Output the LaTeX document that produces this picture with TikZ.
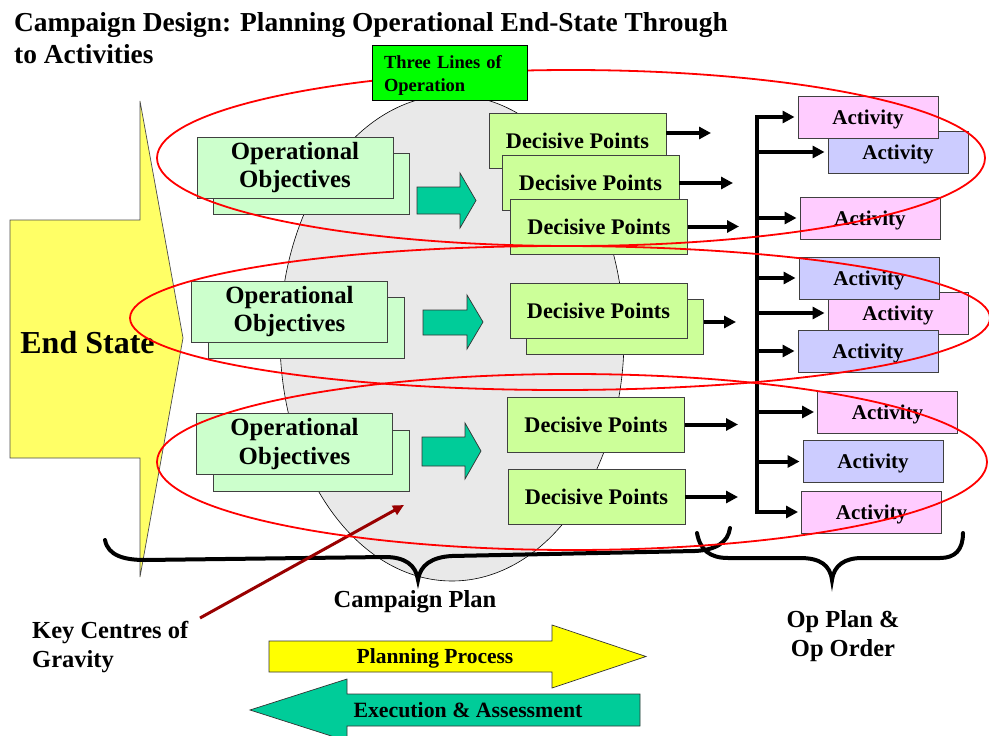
\documentclass[tikz,border=0pt]{standalone}
\usepackage{fontspec}
\setmainfont{Liberation Serif}
\usetikzlibrary{arrows.meta}
\definecolor{esyellow}{HTML}{FFFF66}
\definecolor{oogreen}{HTML}{CCFFCC}
\definecolor{dpgreen}{HTML}{CCFF99}
\definecolor{teal2}{HTML}{00CC99}
\definecolor{actpink}{HTML}{FFCCFF}
\definecolor{actblue}{HTML}{CCCCFF}
\definecolor{linegreen}{HTML}{00FF00}
\definecolor{ppyellow}{HTML}{FFFF00}
\definecolor{cgred}{HTML}{990000}
\definecolor{ellgray}{HTML}{E9E9E9}
\begin{document}
\begin{tikzpicture}[x=1pt,y=-1pt,
  box/.style={draw=black!75, line width=0.9pt, inner sep=0pt, align=center},
  oo/.style={box, fill=oogreen, minimum width=196pt, minimum height=61pt, font=\bfseries\fontsize{24.8}{28.5}\selectfont},
  dpbox/.style={box, fill=dpgreen, minimum width=177pt, minimum height=55pt, font=\bfseries\fontsize{22.3}{26}\selectfont},
  actp/.style={box, fill=actpink, minimum width=140pt, minimum height=42pt, text height=15pt, text depth=1pt, font=\bfseries\fontsize{21}{24}\selectfont},
  actb/.style={actp, fill=actblue},
  blockarrow/.style={draw=black!80, line width=0.7pt},
  arr/.style={line width=4pt, -{Triangle[length=12pt,width=12pt]}},
  bracestyle/.style={line width=4pt, line cap=round},
  ring/.style={draw=red, line width=1.8pt},
  lbl/.style={font=\bfseries\fontsize{24.5}{29.5}\selectfont, inner sep=0pt}
]
\useasboundingbox (0,0) rectangle (989,736);

% title
\node[anchor=base west, inner sep=0pt, font=\bfseries\fontsize{27.4}{32}\selectfont] (title1) at (14,31) {Campaign Design: Planning Operational End-State Through};
\node[anchor=base west, inner sep=0pt, font=\bfseries\fontsize{27.4}{32}\selectfont] (title2) at (14,63) {to Activities};

% end state shape
\draw[draw=black!70, line width=0.7pt, fill=esyellow] (10,220) -- (140,220) -- (140,101) -- (183,338) -- (140,577) -- (140,458) -- (10,458) -- cycle;
\node[anchor=base, inner sep=0pt, font=\bfseries\fontsize{32}{36}\selectfont] (endstate) at (87.5,353) {End State};

% campaign ellipse
\draw[fill=ellgray, draw=black, line width=0.6pt] (452,338) ellipse [x radius=172pt, y radius=243pt];

% operational objectives
\node[oo] (oo1b) at (311.5,184) {};
\node[oo] (oo1) at (295,167.5) {Operational\\Objectives};
\node[oo] (oo2b) at (306,327.5) {};
\node[oo] (oo2) at (289.5,311.5) {Operational\\Objectives};
\node[oo] (oo3b) at (311,461) {};
\node[oo] (oo3) at (294.5,444) {Operational\\Objectives};

% teal block arrows
\draw[blockarrow, fill=teal2] (417,187) -- (460,187) -- (460,173) -- (476,200.5) -- (460,228) -- (460,214) -- (417,214) -- cycle;
\draw[blockarrow, fill=teal2] (423,310) -- (467,310) -- (467,295) -- (483,322) -- (467,349) -- (467,335) -- (423,335) -- cycle;
\draw[blockarrow, fill=teal2] (422,437) -- (465,437) -- (465,423) -- (481,451) -- (465,479) -- (465,466) -- (422,466) -- cycle;

% decisive points
\node[dpbox] (dp1) at (577.5,140.5) {Decisive Points};
\node[dpbox] (dp2) at (590.5,183) {Decisive Points};
\node[dpbox] (dp3) at (599,226.5) {Decisive Points};
\node[dpbox] (dpmb) at (615,327) {};
\node[dpbox] (dpm) at (598.5,311) {Decisive Points};
\node[dpbox] (dp4) at (596,424.5) {Decisive Points};
\node[dpbox] (dp5) at (596.5,497) {Decisive Points};

\coordinate (dp1e) at (711,133);
\coordinate (dp2e) at (733,183);
\coordinate (dp3e) at (739,226.5);
\coordinate (dpme) at (736,322);
\coordinate (dp4e) at (738,424.5);
\coordinate (dp5e) at (738,497);
\draw[arr] ([yshift=7.5pt]dp1.east) -- (dp1e);
\draw[arr] (dp2.east) -- (dp2e);
\draw[arr] (dp3.east) -- (dp3e);
\draw[arr] ([yshift=5pt]dpmb.east) -- (dpme);
\draw[arr] (dp4.east) -- (dp4e);
\draw[arr] (dp5.east) -- (dp5e);

% activities
\node[actb] (a2) at (898,152) {Activity};
\node[actp] (a1) at (868,117) {Activity};
\node[actp] (a3) at (870,218) {Activity};
\node[actp] (a5) at (898,313) {Activity};
\node[actb] (a4) at (869,278) {Activity};
\node[actb] (a6) at (868,351) {Activity};
\node[actp] (a7) at (887.5,412) {Activity};
\node[actb] (a8) at (873,461.5) {Activity};
\node[actp] (a9) at (871.5,512) {Activity};

% bar
\coordinate (bar) at (757,300);
\draw[line width=4pt, line cap=rect] (bar |- a1.west) -- (bar |- a9.west);
\foreach \a in {a1,a2,a3,a4,a5,a6,a7,a8,a9}{
  \draw[arr, shorten >=3pt] (bar |- \a.west) -- (\a.west);
}

% braces
\draw[bracestyle] (105,540) .. controls (108,556) and (125,560) .. (145,560) -- (385,557) .. controls (405,557) and (416,565) .. (418,580) .. controls (420,565) and (432,557) .. (452,556) -- (695,551) .. controls (715,550) and (728,543) .. (730,528);
\draw[bracestyle] (697,533) .. controls (700,550) and (710,558) .. (728,558) -- (800,558) .. controls (820,558) and (830,565) .. (832,580) .. controls (834,565) and (845,558) .. (862,558) -- (940,558) .. controls (955,558) and (963,550) .. (963,533);

\node[lbl, anchor=base] (cplan) at (415,607) {Campaign Plan};
\node[lbl, align=center] (opplan) at (843,636) {Op Plan \&\\Op Order};
\node[lbl, align=left, anchor=west] (kcg) at (32,647) {Key Centres of\\Gravity};

% key centres arrow
\coordinate (kcs) at (200,618);
\coordinate (kce) at (404,505);
\draw[cgred, line width=3pt, -{Triangle[length=11pt,width=10pt]}] (kcs) -- (kce);

% red rings
\draw[ring] (571,158) ellipse [x radius=414pt, y radius=88pt];
\draw[ring] (560,318) ellipse [x radius=430pt, y radius=72pt];
\draw[ring] (572,462) ellipse [x radius=415pt, y radius=88pt];

% three lines of operation
\node[draw=black, line width=0.8pt, fill=linegreen, minimum width=155pt, minimum height=55pt, inner sep=0pt] (lines) at (449.5,72.5) {};
\node[text width=131pt, inner sep=0pt, align=left, font=\bfseries\fontsize{18.5}{23}\selectfont] (linestext) at (449.5,75.5) {Three Lines of\\Operation};

% bottom arrows
\draw[blockarrow, fill=ppyellow] (269,641) -- (552,641) -- (552,625) -- (646,656.5) -- (552,688) -- (552,672) -- (269,672) -- cycle;
\node[inner sep=0pt, font=\bfseries\fontsize{21.5}{24}\selectfont] (plan) at (435,658) {Planning Process};
\draw[blockarrow, fill=teal2] (640,694) -- (347,694) -- (347,679) -- (250,710) -- (347,741) -- (347,726) -- (640,726) -- cycle;
\node[inner sep=0pt, font=\bfseries\fontsize{21.8}{24}\selectfont] (exec) at (468,710) {Execution \& Assessment};
\end{tikzpicture}
\end{document}
